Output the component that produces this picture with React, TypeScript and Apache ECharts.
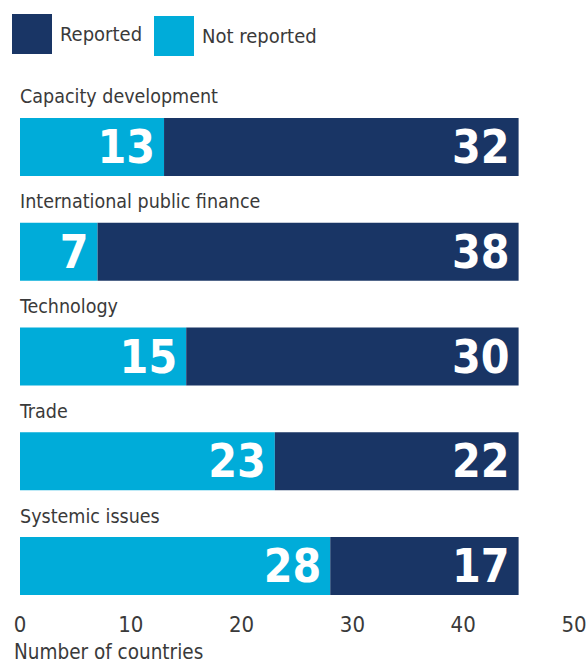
import React, { useEffect, useRef } from "react";
import * as echarts from "echarts";

const categories = [
  "Capacity development",
  "International public finance",
  "Technology",
  "Trade",
  "Systemic issues",
];
const notReported = [13, 7, 15, 23, 28];
const reported = [32, 38, 30, 22, 17];
const xTicks = [0, 10, 20, 30, 40, 50];

const DARK = "#193565";
const LIGHT = "#00acd9";
const TEXT = "#3a3a3a";
const FONT = "'Liberation Sans Narrow', 'DejaVu Sans Condensed', 'Open Sans', sans-serif";

export default function App() {
  const ref = useRef<HTMLDivElement>(null);
  useEffect(() => {
    if (!ref.current) return;
    const chart = echarts.init(ref.current, undefined, { renderer: "svg" });
    const valueLabel = {
      show: true,
      position: "insideRight",
      distance: 9,
      color: "#ffffff",
      fontWeight: "bold",
      fontSize: 46,
      fontFamily: FONT,
    };
    const legendText = { color: TEXT, fontSize: 20, fontFamily: FONT, padding: [2, 0, 0, 3] };
    chart.setOption({
      animation: false,
      textStyle: { fontFamily: FONT },
      legend: [
        {
          data: [{ name: "Reported", icon: "rect" }],
          left: 12,
          top: 14,
          padding: 0,
          itemWidth: 40,
          itemHeight: 40,
          textStyle: legendText,
          selectedMode: false,
        },
        {
          data: [{ name: "Not reported", icon: "rect" }],
          left: 154,
          top: 16,
          padding: 0,
          itemWidth: 40,
          itemHeight: 40,
          textStyle: legendText,
          selectedMode: false,
        },
      ],
      grid: {
        left: 20,
        right: 13,
        top: 94.6,
        bottom: 46.6,
        containLabel: false,
        outerBoundsMode: "none",
      },
      xAxis: {
        type: "value",
        min: xTicks[0],
        max: xTicks[xTicks.length - 1],
        interval: 10,
        axisLine: { show: false },
        axisTick: { show: false },
        splitLine: { show: false },
        axisLabel: {
          color: TEXT,
          fontSize: 22,
          fontFamily: FONT,
          margin: -5,
        },
        name: "Number of countries",
        nameLocation: "start",
        nameGap: 6,
        nameTextStyle: {
          color: TEXT,
          fontSize: 20.5,
          fontFamily: FONT,
          align: "left",
          verticalAlign: "top",
          padding: [23, 0, 0, 0],
        },
      },
      yAxis: {
        type: "category",
        data: categories,
        inverse: true,
        axisLine: { show: false },
        axisTick: { show: false },
        axisLabel: {
          inside: true,
          margin: 0,
          align: "left",
          verticalAlign: "middle",
          formatter: (v: string) => `{t|${v}}\n{g| }`,
          rich: {
            t: { color: TEXT, fontSize: 19.5, fontFamily: FONT, lineHeight: 24 },
            g: { fontSize: 1, lineHeight: 100 },
          },
        },
        z: 10,
      },
      series: [
        {
          name: "Not reported",
          type: "bar",
          stack: "total",
          data: notReported,
          barWidth: 58,
          itemStyle: { color: LIGHT },
          label: valueLabel,
        },
        {
          name: "Reported",
          type: "bar",
          stack: "total",
          data: reported,
          barWidth: 58,
          itemStyle: { color: DARK },
          label: valueLabel,
        },
      ],
    });
    return () => chart.dispose();
  }, []);
  return (
    <div
      ref={ref}
      style={{ position: "absolute", left: 0, top: 0, width: 587, height: 665 }}
    />
  );
}
